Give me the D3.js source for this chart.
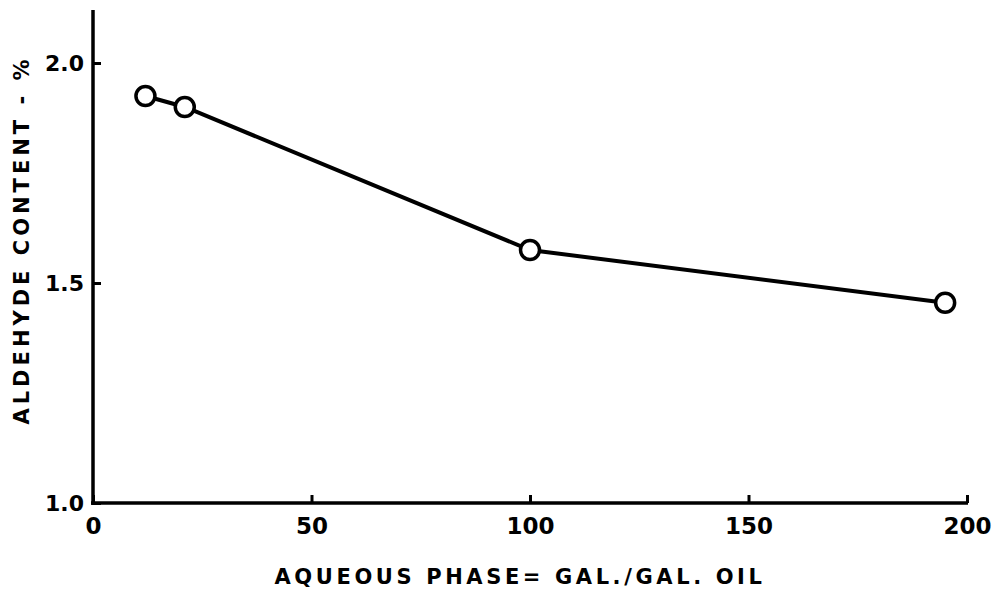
<!DOCTYPE html>
<html><head><meta charset="utf-8">
<script src="https://cdn.jsdelivr.net/npm/d3@7"></script>
<style>body{margin:0;background:#fff}svg{display:block}text{font-family:"DejaVu Sans",sans-serif;font-weight:bold;fill:#000}</style>
</head><body>
<svg id="c" width="1006" height="591"></svg>
<script>
const xValues = [12, 21, 100, 195];
const yValues = [1.925, 1.90, 1.575, 1.455];
const xTicks = [0, 50, 100, 150, 200];
const yTicks = [1.0, 1.5, 2.0];
const yTickLabels = ["1.0", "1.5", "2.0"];
const xTitle = "AQUEOUS PHASE= GAL./GAL. OIL";
const yTitle = "ALDEHYDE CONTENT - %";

const svg = d3.select("#c");
const x = d3.scaleLinear().domain([0, 200]).range([93, 967]);
const y = d3.scaleLinear().domain([1.0, 2.0]).range([503, 63]);

// axes lines
svg.append("line").attr("x1", 93).attr("x2", 93).attr("y1", 10).attr("y2", 505)
  .attr("stroke", "#000").attr("stroke-width", 3.5);
svg.append("line").attr("x1", 91).attr("x2", x(200)+1).attr("y1", 503).attr("y2", 503)
  .attr("stroke", "#000").attr("stroke-width", 3.5);

// x ticks (inward)
const xAxis = d3.axisBottom(x).tickValues(xTicks).tickSizeInner(-8).tickSizeOuter(0).tickPadding(15)
  .tickFormat(d3.format("d"));
const gx = svg.append("g").attr("transform", "translate(0,503)").call(xAxis);
gx.select(".domain").remove();
gx.selectAll(".tick line").attr("stroke", "#000").attr("stroke-width", 3);
gx.selectAll(".tick text").attr("font-size", 23).attr("font-family", "DejaVu Sans").attr("font-weight", "bold").attr("fill", "#000");

// y ticks (inward)
const yAxis = d3.axisLeft(y).tickValues(yTicks).tickSizeInner(-8).tickSizeOuter(0).tickPadding(9)
  .tickFormat((d, i) => yTickLabels[i]);
const gy = svg.append("g").attr("transform", "translate(93,0)").call(yAxis);
gy.select(".domain").remove();
gy.selectAll(".tick line").attr("stroke", "#000").attr("stroke-width", 3);
gy.selectAll(".tick text").attr("font-size", 22).attr("font-family", "DejaVu Sans").attr("font-weight", "bold").attr("fill", "#000");

// line
const pts = xValues.map((d, i) => [d, yValues[i]]);
svg.append("path").datum(pts)
  .attr("d", d3.line().x(d => x(d[0])).y(d => y(d[1])))
  .attr("fill", "none").attr("stroke", "#000").attr("stroke-width", 4);

svg.selectAll("circle.p").data(pts).enter().append("circle")
  .attr("class", "p")
  .attr("cx", d => x(d[0])).attr("cy", d => y(d[1])).attr("r", 9.5)
  .attr("fill", "#fff").attr("stroke", "#000").attr("stroke-width", 3.5);

// titles
svg.append("text").attr("x", 520).attr("y", 584).attr("text-anchor", "middle")
  .attr("font-size", 21).attr("letter-spacing", 3.6).text(xTitle);
svg.append("text").attr("transform", "translate(29,240) rotate(-90)").attr("text-anchor", "middle")
  .attr("font-size", 21).attr("letter-spacing", 4).text(yTitle);
</script>
</body></html>
